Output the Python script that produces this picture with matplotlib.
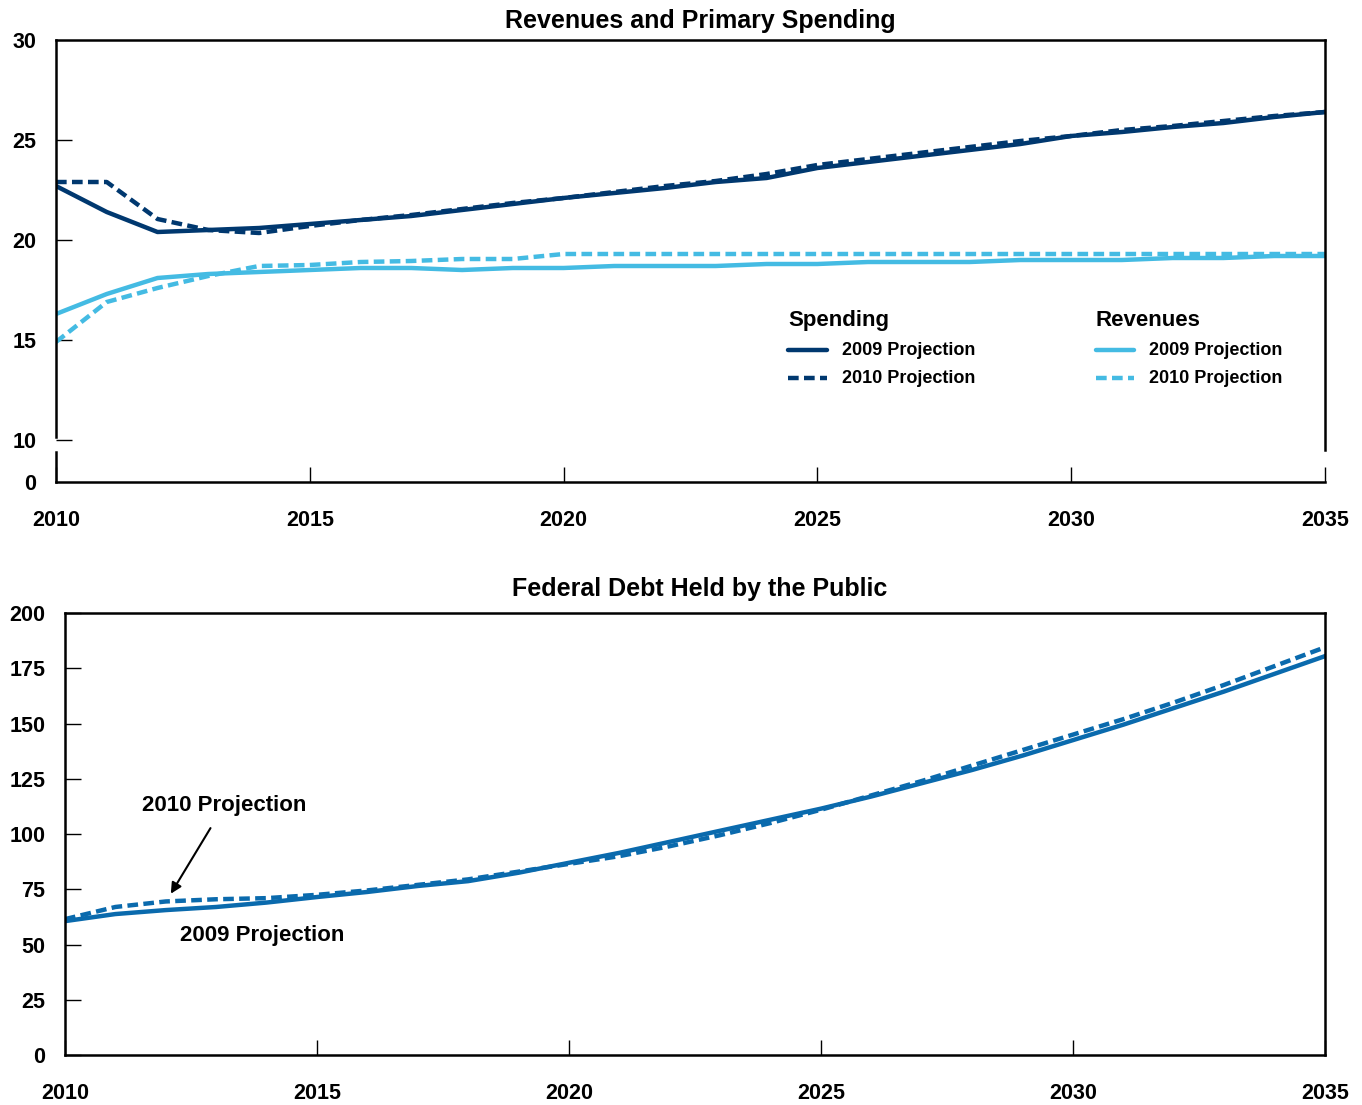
import numpy as np
import matplotlib
matplotlib.use("Agg")
import matplotlib.pyplot as plt

plt.rcParams['font.family'] = ['Liberation Sans', 'DejaVu Sans']
plt.rcParams['font.weight'] = 'bold'

years = list(range(2010, 2036))

# Revenues and primary spending (percent of GDP)
spend_2009 = [22.7, 21.4, 20.4, 20.5, 20.6, 20.8, 21.0, 21.2, 21.5, 21.8, 22.1, 22.35, 22.6,
              22.9, 23.1, 23.6, 23.9, 24.2, 24.5, 24.8, 25.2, 25.4, 25.65, 25.85, 26.15, 26.4]
spend_2010 = [22.9, 22.9, 21.05, 20.5, 20.35, 20.7, 21.0, 21.25, 21.55, 21.85, 22.1, 22.4, 22.7,
              22.95, 23.3, 23.75, 24.05, 24.35, 24.65, 24.95, 25.2, 25.5, 25.7, 25.95, 26.2, 26.4]
rev_2009 = [16.3, 17.3, 18.1, 18.3, 18.4, 18.5, 18.6, 18.6, 18.5, 18.6, 18.6, 18.7, 18.7,
            18.7, 18.8, 18.8, 18.9, 18.9, 18.9, 19.0, 19.0, 19.0, 19.1, 19.1, 19.2, 19.2]
rev_2010 = [14.9, 16.9, 17.6, 18.2, 18.7, 18.75, 18.9, 18.95, 19.05, 19.05, 19.3, 19.3, 19.3,
            19.3, 19.3, 19.3, 19.3, 19.3, 19.3, 19.3, 19.3, 19.3, 19.3, 19.3, 19.3, 19.3]

# Federal debt held by the public (percent of GDP)
debt_2009 = [60.6, 63.8, 65.6, 67.0, 69.0, 71.5, 73.8, 76.5, 78.7, 82.5, 87.0, 91.5, 96.5,
             101.5, 106.5, 111.5, 117.0, 123.0, 129.0, 135.5, 142.5, 149.5, 157.0, 164.5, 172.5, 180.5]
debt_2010 = [61.5, 67.0, 69.5, 70.5, 71.0, 72.5, 74.5, 77.0, 79.5, 83.0, 86.5, 90.0, 94.5,
             99.5, 105.0, 111.0, 117.5, 124.0, 131.0, 138.0, 145.0, 152.0, 159.5, 167.5, 176.0, 184.5]

x_ticks = [2010, 2015, 2020, 2025, 2030, 2035]

navy = '#00386f'
light = '#44bbe3'
debt_blue = '#0a6aad'
dash = (2.4, 1.2)

fig = plt.figure(figsize=(13.62, 11.05), dpi=100)

#################################################################################
# Top panel
ax1 = fig.add_axes([0.0411, 0.5638, 0.9317, 0.4])
y_bottom = 7.9
ax1.plot(years, spend_2009, color=navy, lw=3.2)
ax1.plot(years, spend_2010, color=navy, lw=3.2, dashes=dash)
ax1.plot(years, rev_2009, color=light, lw=3.2)
ax1.plot(years, rev_2010, color=light, lw=3.2, dashes=dash)

ax1.set_xlim(2010, 2035)
ax1.set_ylim(y_bottom, 30)
ax1.set_yticks([y_bottom, 10, 15, 20, 25, 30])
ax1.set_yticklabels(['0', '10', '15', '20', '25', '30'])
ax1.set_xticks(x_ticks)
ax1.set_xticklabels([str(x) for x in x_ticks])

for s in ax1.spines.values():
    s.set_linewidth(1.8)
ax1.spines['left'].set_bounds(10.15, 30)
ax1.spines['right'].set_bounds(9.5, 30)
# broken-axis stub at the bottom left
ax1.plot([0, 0], [y_bottom, 9.4], transform=ax1.get_yaxis_transform(), color='black',
         lw=1.8, clip_on=False)

ax1.tick_params(axis='y', direction='in', length=11.5, width=1.0, pad=14, labelsize=15.5)
ax1.tick_params(axis='x', direction='in', length=11, width=1.0, pad=20, labelsize=15.5)
ax1.yaxis.get_major_ticks()[0].tick1line.set_visible(False)
ax1.yaxis.get_major_ticks()[-1].tick1line.set_visible(False)

ax1.set_title('Revenues and Primary Spending', fontsize=18, fontweight='bold', pad=9, x=0.508)

# Legend drawn by hand
def legend_entry(ax, x0, y, color, style, text):
    if style == 'solid':
        ax.plot([x0, x0 + 0.75], [y, y], color=color, lw=3.2, solid_capstyle='round')
    else:
        ax.plot([x0, x0 + 0.75], [y, y], color=color, lw=3.2, dashes=dash)
    ax.text(x0 + 1.05, y, text, fontsize=13, fontweight='bold', va='center', ha='left')

ax1.text(2024.43, 16.0, 'Spending', fontsize=16, fontweight='bold', va='center', ha='left')
legend_entry(ax1, 2024.43, 14.5, navy, 'solid', '2009 Projection')
legend_entry(ax1, 2024.43, 13.1, navy, 'dash', '2010 Projection')
ax1.text(2030.48, 16.0, 'Revenues', fontsize=16, fontweight='bold', va='center', ha='left')
legend_entry(ax1, 2030.48, 14.5, light, 'solid', '2009 Projection')
legend_entry(ax1, 2030.48, 13.1, light, 'dash', '2010 Projection')

#################################################################################
# Bottom panel
ax2 = fig.add_axes([0.0477, 0.0452, 0.9251, 0.4])
ax2.plot(years, debt_2009, color=debt_blue, lw=3.2)
ax2.plot(years, debt_2010, color=debt_blue, lw=3.2, dashes=dash)
ax2.set_xlim(2010, 2035)
ax2.set_ylim(0, 200)
ax2.set_yticks(range(0, 201, 25))
ax2.set_xticks(x_ticks)
ax2.set_xticklabels([str(x) for x in x_ticks])
for s in ax2.spines.values():
    s.set_linewidth(1.8)
ax2.tick_params(axis='y', direction='in', length=11.5, width=1.0, pad=14, labelsize=15.5)
ax2.tick_params(axis='x', direction='in', length=11, width=1.0, pad=20, labelsize=15.5)
ax2.set_title('Federal Debt Held by the Public', fontsize=18, fontweight='bold', pad=12, x=0.504)

ax2.annotate('2010 Projection', xy=(2012.1, 73), xytext=(2011.53, 113),
             fontsize=16, fontweight='bold', ha='left', va='center',
             arrowprops=dict(arrowstyle='-|>', color='black', lw=1.5, mutation_scale=16,
                             shrinkA=8, shrinkB=0))
ax2.text(2012.28, 54, '2009 Projection', fontsize=16, fontweight='bold', ha='left', va='center')

fig.savefig('out.png', dpi=100)
